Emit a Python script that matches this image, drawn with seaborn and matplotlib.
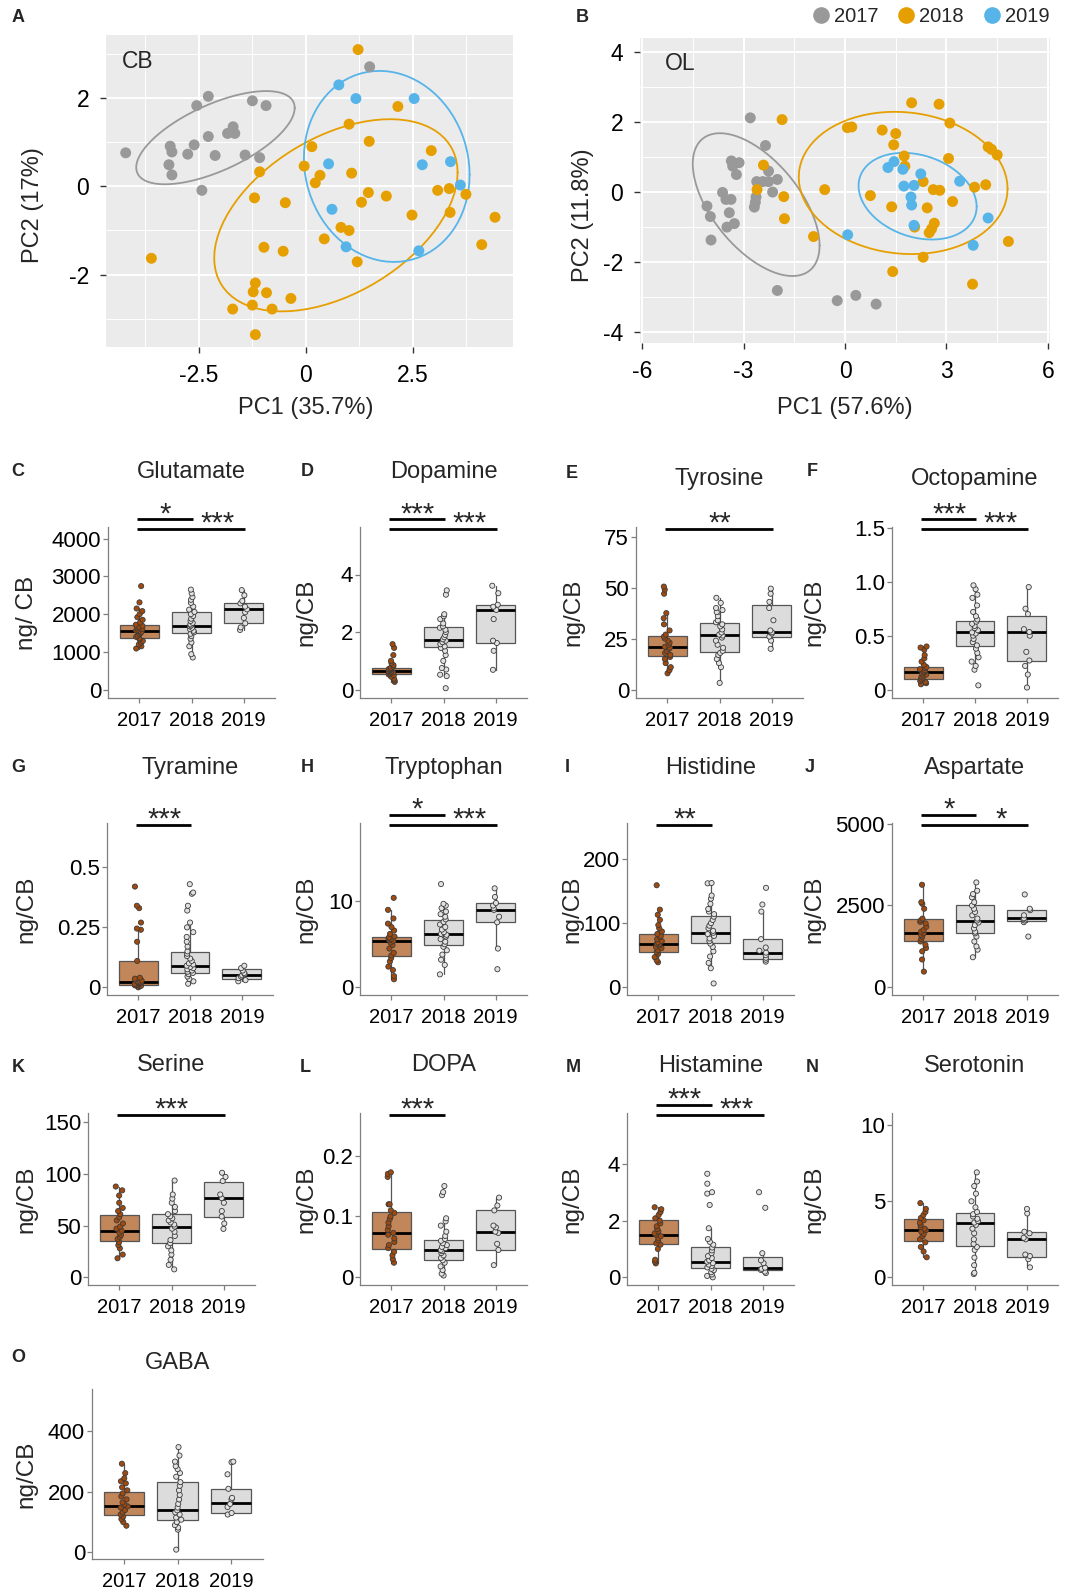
import numpy as np
import pandas as pd
import matplotlib
matplotlib.use("Agg")
import matplotlib.pyplot as plt
import matplotlib.transforms as mtrans
from matplotlib.lines import Line2D
from matplotlib.ticker import FixedLocator
import seaborn as sns

sns.set_theme(style="white")
plt.rcParams["font.family"] = ["Liberation Sans", "DejaVu Sans"]
plt.rcParams["axes.unicode_minus"] = False
np.random.seed(7)

# ---------------- DATA ----------------
YEARS = ["2017", "2018", "2019"]
PCA_COLORS = {"2017": "#999999", "2018": "#E69F00", "2019": "#56B4E9"}

# Panel A (CB) PCA scores [PC1, PC2]
cb_2017 = [[-4.21, 0.76], [-2.55, 1.83], [-2.28, 2.04], [-1.25, 1.94], [-0.93, 1.83],
           [-3.17, 0.91], [-3.13, 0.78], [-2.61, 0.94], [-2.76, 0.73], [-2.28, 1.13],
           [-2.12, 0.70], [-3.20, 0.49], [-3.13, 0.26], [-1.83, 1.20], [-1.70, 1.35],
           [-1.66, 1.20], [-1.42, 0.71], [-1.08, 0.65], [-2.43, -0.09], [1.49, 2.71]]
cb_2018 = [[1.22, 3.10], [2.15, 1.81], [1.01, 1.41], [1.48, 1.02], [0.14, 0.90],
           [-0.04, 0.46], [-1.08, 0.33], [0.33, 0.25], [0.22, 0.08], [1.07, 0.30],
           [2.93, 0.81], [1.46, -0.14], [1.88, -0.22], [1.30, -0.36], [3.08, -0.09],
           [3.35, -0.05], [3.74, -0.18], [3.37, -0.59], [2.48, -0.65], [4.42, -0.70],
           [4.11, -1.32], [-1.20, -0.26], [-0.48, -0.37], [0.82, -0.93], [1.01, -1.00],
           [0.43, -1.19], [-0.98, -1.38], [-0.53, -1.47], [1.20, -1.71], [-3.61, -1.63],
           [-1.18, -2.19], [-1.23, -2.39], [-0.92, -2.41], [-0.35, -2.54], [-1.25, -2.69],
           [-1.71, -2.78], [-0.79, -2.78], [-1.18, -3.36]]
cb_2019 = [[0.77, 2.30], [1.17, 1.99], [2.53, 1.99], [0.53, 0.51], [2.72, 0.49],
           [3.38, 0.56], [3.61, 0.03], [0.61, -0.52], [0.94, -1.37], [2.64, -1.46]]

# Panel B (OL) PCA scores [PC1, PC2]
ol_2017 = [[-2.80, 2.12], [-2.35, 1.33], [-3.36, 0.89], [-3.13, 0.84], [-3.32, 0.74],
           [-3.21, 0.50], [-2.26, 0.60], [-2.00, 0.36], [-2.61, 0.30], [-2.43, 0.30],
           [-2.26, 0.30], [-2.14, 0.00], [-3.62, -0.01], [-3.52, -0.21], [-3.37, -0.21],
           [-2.63, -0.14], [-2.65, -0.29], [-2.68, -0.43], [-4.08, -0.40], [-3.98, -0.70],
           [-3.42, -0.59], [-3.27, -0.90], [-3.49, -1.00], [-3.96, -1.37], [-2.00, -2.81],
           [-0.23, -3.10], [0.32, -2.95], [0.92, -3.20]]
ol_2018 = [[-1.86, 2.07], [-2.41, 0.77], [-2.60, 0.07], [-1.81, -0.13], [-1.79, -0.76],
           [-0.93, -1.27], [-0.60, 0.07], [0.07, 1.84], [0.20, 1.86], [1.10, 1.77],
           [1.50, 1.67], [1.44, 1.35], [1.97, 2.55], [2.78, 2.51], [3.10, 1.97],
           [3.06, 0.96], [1.75, 1.03], [1.77, 0.74], [4.23, 1.29], [4.33, 1.22],
           [4.50, 1.06], [2.31, 0.30], [2.61, 0.07], [2.80, 0.05], [3.83, 0.14],
           [4.16, 0.21], [0.75, -0.10], [1.38, -0.42], [2.43, -0.45], [3.18, -0.27],
           [2.06, -1.00], [2.64, -0.89], [2.56, -1.05], [2.49, -1.16], [2.31, -1.86],
           [1.41, -2.27], [3.77, -2.63], [4.83, -1.41]]
ol_2019 = [[1.27, 0.70], [1.45, 0.87], [1.71, 0.65], [2.24, 0.52], [3.39, 0.31],
           [1.74, 0.17], [2.04, 0.19], [1.95, -0.14], [1.97, -0.37], [2.04, -0.95],
           [0.08, -1.22], [4.23, -0.74], [3.79, -1.52]]

# Box statistics per year: [whisker low, Q1, median, Q3, whisker high]
glutamate_box = [[1090, 1363, 1565, 1700, 2150], [853, 1512, 1697, 2066, 2650], [1582, 1758, 2127, 2286, 2637]]
dopamine_box = [[0.27, 0.54, 0.66, 0.75, 1.05], [0.47, 1.48, 1.71, 2.17, 2.62], [0.69, 1.61, 2.77, 2.94, 3.61]]
tyrosine_box = [[8, 16.7, 20.9, 26.1, 37.5], [3.3, 18.5, 26.6, 32.8, 45], [20, 26.0, 28.1, 41.3, 49.5]]
octopamine_box = [[0.05, 0.10, 0.164, 0.21, 0.40], [0.185, 0.407, 0.531, 0.633, 0.966], [0.02, 0.269, 0.534, 0.685, 0.95]]
tyramine_box = [[0.0, 0.0097, 0.021, 0.11, 0.245], [0.015, 0.06, 0.09, 0.146, 0.27], [0.025, 0.035, 0.05, 0.075, 0.09]]
tryptophan_box = [[0.93, 3.66, 5.41, 5.9, 9.0], [1.5, 4.9, 6.15, 7.78, 9.7], [4.5, 7.55, 9.03, 9.77, 11.5]]
histidine_box = [[39, 55.7, 67.7, 82.8, 121], [29.7, 69.8, 83.9, 111.5, 162.5], [40, 43.8, 54, 75, 118]]
aspartate_box = [[480, 1429, 1673, 2082, 3133], [918, 1673, 2041, 2500, 3204], [1990, 2041, 2112, 2357, 2400]]
serine_box = [[18.4, 35.5, 45.2, 60.3, 87.7], [7.7, 32.9, 49, 61, 93.5], [46.8, 58.7, 76.5, 91.9, 101]]
dopa_box = [[0.024, 0.047, 0.073, 0.107, 0.1725], [0.003, 0.029, 0.045, 0.062, 0.097], [0.02, 0.045, 0.075, 0.11, 0.131]]
histamine_box = [[0.49, 1.19, 1.48, 2.01, 2.47], [0.0, 0.32, 0.55, 1.06, 1.73], [0.15, 0.26, 0.34, 0.71, 0.85]]
serotonin_box = [[1.32, 2.42, 3.12, 3.85, 4.88], [0.22, 2.09, 3.6, 4.26, 6.9], [0.66, 1.36, 2.53, 3.01, 4.5]]
gaba_box = [[88, 123, 152, 200.5, 293], [9, 108, 139, 231, 348], [125, 129, 163, 210, 301]]

# Individual measurements (ng/CB)
glutamate_2017 = [1090, 1150, 1200, 1250, 1290, 1330, 1360, 1400, 1430, 1470, 1500, 1530, 1550, 1570,
                  1590, 1610, 1640, 1660, 1690, 1720, 1780, 1850, 1920, 2000, 2080, 2150, 2312, 2743]
glutamate_2018 = [853, 940, 1150, 1250, 1350, 1420, 1480, 1520, 1560, 1600, 1640, 1680, 1700, 1730,
                  1770, 1820, 1880, 1950, 2000, 2060, 2120, 2200, 2300, 2380, 2450, 2550, 2650]
glutamate_2019 = [1582, 1650, 1758, 1900, 2050, 2127, 2200, 2286, 2350, 2500, 2637]

dopamine_2017 = [0.27, 0.32, 0.38, 0.45, 0.50, 0.53, 0.56, 0.58, 0.60, 0.62, 0.64, 0.66, 0.68, 0.70,
                 0.72, 0.74, 0.76, 0.80, 0.85, 0.92, 1.0, 1.2, 1.45, 1.58]
dopamine_2018 = [0.05, 0.47, 0.52, 0.70, 0.75, 1.0, 1.2, 1.35, 1.45, 1.5, 1.58, 1.65, 1.70, 1.75,
                 1.82, 1.9, 2.0, 2.08, 2.15, 2.2, 2.3, 2.45, 2.55, 2.62, 3.3, 3.45]
dopamine_2019 = [0.69, 1.35, 1.62, 1.7, 2.45, 2.77, 2.88, 2.95, 3.35, 3.61]

tyrosine_2017 = [8, 9.5, 11, 13, 15, 16, 17, 18, 19, 20, 20.5, 21, 22, 23, 24, 25, 26, 27, 29, 32,
                 35, 37.5, 47, 49, 50.5]
tyrosine_2018 = [3.3, 11, 13, 15, 17, 18, 19, 20.5, 22, 24, 25.5, 26.5, 27, 28, 29.5, 31, 32, 33,
                 34, 36, 38, 39, 40, 42.5, 45]
tyrosine_2019 = [20, 24, 26, 27.5, 28.1, 29, 34, 40, 43, 47, 49.5]

octopamine_2017 = [0.05, 0.06, 0.07, 0.08, 0.09, 0.10, 0.11, 0.12, 0.13, 0.14, 0.15, 0.16, 0.17,
                   0.18, 0.19, 0.2, 0.21, 0.23, 0.26, 0.29, 0.32, 0.37, 0.39, 0.40]
octopamine_2018 = [0.04, 0.185, 0.22, 0.26, 0.30, 0.34, 0.38, 0.41, 0.44, 0.47, 0.50, 0.52, 0.53,
                   0.55, 0.57, 0.59, 0.61, 0.63, 0.65, 0.68, 0.72, 0.78, 0.85, 0.88, 0.93, 0.966]
octopamine_2019 = [0.02, 0.14, 0.22, 0.27, 0.35, 0.50, 0.534, 0.56, 0.70, 0.75, 0.95]

tyramine_2017 = [0.0, 0.003, 0.006, 0.008, 0.010, 0.012, 0.014, 0.016, 0.018, 0.020, 0.022, 0.025,
                 0.028, 0.032, 0.036, 0.04, 0.11, 0.19, 0.24, 0.245, 0.27, 0.33, 0.34, 0.42]
tyramine_2018 = [0.015, 0.025, 0.035, 0.045, 0.055, 0.06, 0.065, 0.07, 0.075, 0.08, 0.085, 0.09,
                 0.095, 0.1, 0.11, 0.12, 0.13, 0.14, 0.15, 0.17, 0.19, 0.21, 0.23, 0.25, 0.27,
                 0.32, 0.34, 0.39, 0.395, 0.43]
tyramine_2019 = [0.025, 0.03, 0.038, 0.045, 0.05, 0.055, 0.06, 0.07, 0.08, 0.09]

tryptophan_2017 = [0.93, 1.3, 2.0, 2.4, 3.0, 3.4, 3.7, 4.0, 4.5, 4.9, 5.2, 5.4, 5.5, 5.6, 5.7, 5.8,
                   5.9, 6.2, 6.6, 7.0, 7.4, 8.0, 9.0, 10.4]
tryptophan_2018 = [1.5, 2.6, 3.2, 3.8, 4.3, 4.7, 5.0, 5.3, 5.6, 5.9, 6.1, 6.2, 6.4, 6.7, 7.0, 7.3,
                   7.6, 7.9, 8.2, 8.5, 8.8, 9.2, 9.5, 9.7, 12.0]
tryptophan_2019 = [2.1, 4.5, 7.55, 8.2, 9.0, 9.2, 9.5, 9.8, 10.5, 11.5]

histidine_2017 = [39, 42, 47, 52, 55, 58, 61, 63, 65, 67, 68, 70, 72, 75, 78, 80, 83, 87, 92, 97,
                  105, 113, 121, 159]
histidine_2018 = [6, 29.7, 38, 48, 56, 63, 68, 72, 76, 80, 83, 85, 88, 92, 96, 100, 105, 110, 114,
                  118, 122, 130, 138, 143, 162, 162.5]
histidine_2019 = [40, 43, 46, 50, 54, 57, 62, 75, 118, 129, 155]

aspartate_2017 = [480, 850, 1100, 1200, 1300, 1400, 1480, 1550, 1600, 1650, 1700, 1750, 1850, 1950,
                  2000, 2050, 2100, 2400, 2550, 2600, 3133]
aspartate_2018 = [918, 1150, 1250, 1400, 1550, 1650, 1700, 1800, 1900, 1980, 2040, 2100, 2200, 2300,
                  2400, 2500, 2600, 2750, 2850, 2950, 3204]
aspartate_2019 = [1550, 1990, 2041, 2080, 2112, 2200, 2357, 2400, 2837]

serine_2017 = [18.4, 22, 28, 31, 34, 37, 39, 41, 43, 45, 47, 49, 52, 55, 58, 61, 64, 67, 72, 79, 84, 87.7]
serine_2018 = [7.7, 12, 17, 22, 26, 30, 33, 36, 40, 44, 47, 49, 51, 53, 55, 57, 59, 61, 64, 68, 72,
               76, 80, 93.5]
serine_2019 = [46.8, 52, 58.7, 64, 72, 76.5, 80, 93, 97, 101]

dopa_2017 = [0.024, 0.03, 0.036, 0.042, 0.048, 0.053, 0.058, 0.064, 0.07, 0.073, 0.078, 0.084, 0.09,
             0.096, 0.1, 0.106, 0.11, 0.12, 0.12, 0.165, 0.17, 0.1725]
dopa_2018 = [0.003, 0.006, 0.012, 0.018, 0.024, 0.028, 0.032, 0.036, 0.04, 0.043, 0.045, 0.048, 0.05,
             0.053, 0.056, 0.06, 0.063, 0.068, 0.075, 0.085, 0.092, 0.097, 0.135, 0.14, 0.15]
dopa_2019 = [0.02, 0.045, 0.055, 0.073, 0.075, 0.082, 0.085, 0.11, 0.118, 0.131]

histamine_2017 = [0.49, 0.55, 0.62, 1.0, 1.15, 1.2, 1.3, 1.38, 1.45, 1.5, 1.55, 1.62, 1.7, 1.8, 1.9,
                  2.0, 2.08, 2.2, 2.3, 2.4, 2.47]
histamine_2018 = [0.0, 0.05, 0.1, 0.18, 0.25, 0.3, 0.35, 0.4, 0.45, 0.5, 0.55, 0.6, 0.68, 0.75, 0.85,
                  0.95, 1.05, 1.15, 1.25, 1.35, 1.73, 2.55, 2.95, 3.0, 3.3, 3.65]
histamine_2019 = [0.15, 0.2, 0.26, 0.3, 0.34, 0.5, 0.6, 0.85, 2.45, 3.0]

serotonin_2017 = [1.32, 1.7, 2.0, 2.3, 2.5, 2.7, 2.85, 3.0, 3.1, 3.2, 3.3, 3.45, 3.6, 3.75, 3.9, 4.1,
                  4.3, 4.5, 4.88]
serotonin_2018 = [0.22, 0.3, 0.8, 1.3, 1.8, 2.0, 2.2, 2.5, 2.9, 3.2, 3.45, 3.6, 3.7, 3.85, 4.0, 4.15,
                  4.3, 4.6, 5.0, 5.5, 6.0, 6.3, 6.9]
serotonin_2019 = [0.66, 1.2, 1.4, 1.5, 2.5, 2.6, 2.9, 3.0, 4.2, 4.5]

gaba_2017 = [88, 100, 110, 118, 125, 132, 140, 148, 152, 158, 165, 175, 185, 195, 205, 215, 228, 235,
             245, 262, 293]
gaba_2018 = [9, 75, 82, 90, 100, 108, 115, 125, 132, 139, 148, 160, 175, 190, 205, 220, 232, 250, 262,
             275, 285, 300, 320, 348]
gaba_2019 = [125, 130, 150, 160, 175, 180, 210, 258, 298, 300]

# Significance annotations: (group a, group b, label)
sig_glutamate = [(0, 1, "*"), (0, 2, "***")]
sig_dopamine = [(0, 1, "***"), (0, 2, "***")]
sig_tyrosine = [(0, 2, "**")]
sig_octopamine = [(0, 1, "***"), (0, 2, "***")]
sig_tyramine = [(0, 1, "***")]
sig_tryptophan = [(0, 1, "*"), (0, 2, "***")]
sig_histidine = [(0, 1, "**")]
sig_aspartate = [(0, 1, "*"), (0, 2, "*")]
sig_serine = [(0, 2, "***")]
sig_dopa = [(0, 1, "***")]
sig_histamine = [(0, 1, "***"), (0, 2, "***")]

# y ticks per panel (values and labels)
ticks_glutamate = [0, 1000, 2000, 3000, 4000]
ticks_dopamine = [0, 2, 4]
ticks_tyrosine = [0, 25, 50, 75]
ticks_octopamine = [0, 0.5, 1.0, 1.5]
labels_octopamine = ["0", "0.5", "1.0", "1.5"]
ticks_tyramine = [0, 0.25, 0.5]
labels_tyramine = ["0", "0.25", "0.5"]
ticks_tryptophan = [0, 10]
ticks_histidine = [0, 100, 200]
ticks_aspartate = [0, 2500, 5000]
ticks_serine = [0, 50, 100, 150]
ticks_dopa = [0, 0.1, 0.2]
labels_dopa = ["0", "0.1", "0.2"]
ticks_histamine = [0, 2, 4]
ticks_serotonin = [0, 5, 10]
ticks_gaba = [0, 200, 400]

# ---------------- FIGURE ----------------
W, H = 1078, 1593
fig = plt.figure(figsize=(W / 100, H / 100), dpi=100)
fig.patch.set_facecolor("white")


def px_axes(l, t, r, b):
    return fig.add_axes([l / W, 1 - b / H, (r - l) / W, (b - t) / H])


def norm_ellipse(pts, level=0.68, segments=80):
    # ggplot2 stat_ellipse(type = "norm") equivalent
    X = np.asarray(pts, float)
    n = len(X)
    loc = X.mean(axis=0)
    cov = np.cov(X.T, ddof=1)
    dfd = n - 1
    fq = (dfd / 2) * ((1 - level) ** (-2 / dfd) - 1)   # qf(level, 2, dfd)
    radius = np.sqrt(2 * fq)
    ang = np.linspace(0, 2 * np.pi, segments + 1)
    circ = np.column_stack([np.cos(ang), np.sin(ang)])
    R = np.linalg.cholesky(cov).T
    return loc + radius * circ @ R


def pca_panel(ax, groups, xlim, ylim, xt, xtl, yt, minor_x, minor_y, tag, tag_x):
    rows = []
    for yr, pts in zip(YEARS, groups):
        for p in pts:
            rows.append({"PC1": p[0], "PC2": p[1], "year": yr})
    df = pd.DataFrame(rows)
    ax.set_facecolor("#EBEBEB")
    sns.scatterplot(data=df, x="PC1", y="PC2", hue="year", hue_order=YEARS,
                    palette=PCA_COLORS, s=62, edgecolor="none", legend=False,
                    ax=ax, zorder=3)
    for yr, pts in zip(YEARS, groups):
        e = norm_ellipse(pts)
        ax.plot(e[:, 0], e[:, 1], color=PCA_COLORS[yr], lw=1.3, zorder=2)
    ax.set_xlim(*xlim)
    ax.set_ylim(*ylim)
    ax.set_xticks(xt)
    ax.set_xticklabels(xtl)
    ax.set_yticks(yt)
    ax.set_yticklabels([str(v) for v in yt])
    ax.xaxis.set_minor_locator(FixedLocator(minor_x))
    ax.yaxis.set_minor_locator(FixedLocator(minor_y))
    ax.grid(which="major", color="white", lw=1.4, zorder=0)
    ax.grid(which="minor", color="white", lw=0.7, zorder=0)
    ax.set_axisbelow(True)
    for s in ax.spines.values():
        s.set_visible(False)
    ax.tick_params(which="major", length=4, width=1.0, color="#333333",
                   labelsize=16.5, labelcolor="black", pad=8, bottom=True, left=True)
    ax.tick_params(which="minor", length=0)
    ax.set_xlabel("")
    ax.set_ylabel("")
    ax.text(tag_x, 0.915, tag, transform=ax.transAxes, fontsize=16.5, ha="left", va="center")


axA = px_axes(106, 35, 513, 347)
pca_panel(axA, [cb_2017, cb_2018, cb_2019], (-4.67, 4.84), (-3.64, 3.43),
          [-2.5, 0, 2.5], ["-2.5", "0", "2.5"], [-2, 0, 2],
          [-3.75, -1.25, 1.25, 3.75], [-3, -1, 1, 3], "CB", 0.04)
axB = px_axes(640, 38, 1050, 343)
pca_panel(axB, [ol_2017, ol_2018, ol_2019], (-6.06, 6.06), (-4.31, 4.4),
          [-6, -3, 0, 3, 6], ["-6", "-3", "0", "3", "6"], [-4, -2, 0, 2, 4],
          [-4.5, -1.5, 1.5, 4.5], [-3, -1, 1, 3], "OL", 0.06)

fig.text(306 / W, 1 - 408 / H, "PC1 (35.7%)", fontsize=17, ha="center", va="center")
fig.text(845 / W, 1 - 408 / H, "PC1 (57.6%)", fontsize=17, ha="center", va="center")
fig.text(33 / W, 1 - 205 / H, "PC2 (17%)", fontsize=17, ha="center", va="center", rotation=90)
fig.text(583 / W, 1 - 215 / H, "PC2 (11.8%)", fontsize=17, ha="center", va="center", rotation=90)

handles = [Line2D([0], [0], marker="o", ls="", markersize=12, markerfacecolor=PCA_COLORS[y],
                  markeredgecolor="none") for y in YEARS]
fig.legend(handles, YEARS, loc="center right", bbox_to_anchor=(1050 / W, 1 - 17 / H),
           ncol=3, frameon=False, fontsize=14.5, handletextpad=0.15, columnspacing=0.9,
           handlelength=1.0, borderaxespad=0, borderpad=0)

fig.text(18 / W, 1 - 18 / H, "A", fontsize=13, fontweight="bold", ha="center", va="center")
fig.text(582 / W, 1 - 18 / H, "B", fontsize=13, fontweight="bold", ha="center", va="center")

# ---------------- BOX PANELS ----------------
BOX_FILL = {"2017": "#C18659", "2018": "#DCDCDC", "2019": "#DCDCDC"}
PT_FILL = {"2017": "#A24A0E", "2018": "#E2E2E2", "2019": "#E2E2E2"}

panels = [
    # letter, title, points, box, ylim, ticks, ticklabels, ylabel, sig, axes px, title_y, letter_xy, ylab_x
    ("C", "Glutamate", [glutamate_2017, glutamate_2018, glutamate_2019], glutamate_box, (-220, 4308),
     ticks_glutamate, None, "ng/ CB", sig_glutamate, (108, 527, 275, 698), 472, (18, 472), 27),
    ("D", "Dopamine", [dopamine_2017, dopamine_2018, dopamine_2019], dopamine_box, (-0.29, 5.65),
     ticks_dopamine, None, "ng/CB", sig_dopamine, (360, 527, 527, 698), 472, (307, 472), 306),
    ("E", "Tyrosine", [tyrosine_2017, tyrosine_2018, tyrosine_2019], tyrosine_box, (-4.1, 79.7),
     ticks_tyrosine, None, "ng/CB", sig_tyrosine, (636, 527, 803, 698), 479, (572, 473), 573),
    ("F", "Octopamine", [octopamine_2017, octopamine_2018, octopamine_2019], octopamine_box,
     (-0.077, 1.506), ticks_octopamine, labels_octopamine, "ng/CB", sig_octopamine,
     (892, 527, 1058, 698), 479, (812, 472), 814),
    ("G", "Tyramine", [tyramine_2017, tyramine_2018, tyramine_2019], tyramine_box, (-0.032, 0.685),
     ticks_tyramine, labels_tyramine, "ng/CB", sig_tyramine, (107, 823, 273, 995), 768, (18, 768), 26),
    ("H", "Tryptophan", [tryptophan_2017, tryptophan_2018, tryptophan_2019], tryptophan_box,
     (-0.9, 19.1), ticks_tryptophan, None, "ng/CB", sig_tryptophan, (360, 823, 527, 995), 768,
     (307, 768), 306),
    ("I", "Histidine", [histidine_2017, histidine_2018, histidine_2019], histidine_box, (-12, 256),
     ticks_histidine, None, "ng/CB", sig_histidine, (627, 823, 794, 995), 768, (567, 768), 572),
    ("J", "Aspartate", [aspartate_2017, aspartate_2018, aspartate_2019], aspartate_box, (-235, 5020),
     ticks_aspartate, None, "ng/CB", sig_aspartate, (892, 823, 1058, 995), 768, (810, 768), 814),
    ("K", "Serine", [serine_2017, serine_2018, serine_2019], serine_box, (-7.4, 158.7),
     ticks_serine, None, "ng/CB", sig_serine, (88, 1113, 255, 1285), 1065, (18, 1068), 26),
    ("L", "DOPA", [dopa_2017, dopa_2018, dopa_2019], dopa_box, (-0.0126, 0.27),
     ticks_dopa, labels_dopa, "ng/CB", sig_dopa, (360, 1113, 527, 1285), 1065, (305, 1068), 306),
    ("M", "Histamine", [histamine_2017, histamine_2018, histamine_2019], histamine_box, (-0.27, 5.79),
     ticks_histamine, None, "ng/CB", sig_histamine, (627, 1113, 794, 1285), 1066, (573, 1068), 572),
    ("N", "Serotonin", [serotonin_2017, serotonin_2018, serotonin_2019], serotonin_box, (-0.5, 10.8),
     ticks_serotonin, None, "ng/CB", [], (892, 1113, 1058, 1285), 1066, (812, 1068), 814),
    ("O", "GABA", [gaba_2017, gaba_2018, gaba_2019], gaba_box, (-22, 540),
     ticks_gaba, None, "ng/CB", [], (92, 1389, 263, 1559), 1363, (18, 1358), 26),
]

AX_GRAY = "#7F7F7F"
for (letter, title, pts, box, ylim, ticks, tlabels, ylab, sig, (l, t, r, b), ty, (lx, ly), ylx) in panels:
    ax = px_axes(l, t, r, b)
    stats = []
    for row in box:
        stats.append(dict(whislo=row[0], q1=row[1], med=row[2], q3=row[3], whishi=row[4], fliers=[]))
    bp = ax.bxp(stats, positions=[0, 1, 2], widths=0.75, patch_artist=True, showfliers=False,
                showcaps=False, manage_ticks=False,
                boxprops=dict(edgecolor="#555555", linewidth=0.9),
                medianprops=dict(color="black", linewidth=2.0, solid_capstyle="butt"),
                whiskerprops=dict(color="#555555", linewidth=0.9))
    for patch, yr in zip(bp["boxes"], YEARS):
        patch.set_facecolor(BOX_FILL[yr])
        patch.set_zorder(1)
    for m in bp["medians"]:
        m.set_zorder(2)

    rows = []
    for yr, vals in zip(YEARS, pts):
        for v in vals:
            rows.append({"year": yr, "val": v})
    df = pd.DataFrame(rows)
    sns.stripplot(data=df, x="year", y="val", hue="year", order=YEARS, hue_order=YEARS,
                  palette=PT_FILL, jitter=0.07, size=3.7, linewidth=0.6, edgecolor="#3A3A3A",
                  legend=False, ax=ax, zorder=3)

    ax.set_xlim(-0.6, 2.6)
    ax.set_ylim(*ylim)
    ax.set_xticks([0, 1, 2])
    ax.set_xticklabels(YEARS)
    ax.set_yticks(ticks)
    ax.set_yticklabels(tlabels if tlabels else [str(v) for v in ticks])
    ax.set_xlabel("")
    ax.set_ylabel("")
    ax.set_facecolor("white")
    ax.grid(False)
    for s in ["top", "right"]:
        ax.spines[s].set_visible(False)
    for s in ["left", "bottom"]:
        ax.spines[s].set_color(AX_GRAY)
        ax.spines[s].set_linewidth(0.9)
    ax.tick_params(axis="both", length=3.5, width=0.9, color=AX_GRAY, labelcolor="black",
                   bottom=True, left=True)
    ax.tick_params(axis="y", labelsize=16, pad=1.5)
    ax.tick_params(axis="x", labelsize=14.5, pad=6)

    # significance bars
    trans = mtrans.blended_transform_factory(ax.transData, ax.transAxes)
    txt_trans = mtrans.offset_copy(trans, fig=fig, y=-2.0, units="points")
    if len(sig) == 2:
        levels = [1.045, 0.99]
        label_x = [0.5, 1.5]
    else:
        levels = [0.99]
        label_x = [(sig[0][0] + sig[0][1]) / 2] if sig else []
    for (a, c, lab), yl, lxp in zip(sig, levels, label_x):
        ax.plot([a - 0.05, c + 0.02], [yl, yl], color="black", lw=2.0, transform=trans,
                clip_on=False, solid_capstyle="butt")
        ax.text(lxp, yl, lab, transform=txt_trans, ha="center", va="baseline", fontsize=21)

    cx = (l + r) / 2
    fig.text(cx / W, 1 - ty / H, title, fontsize=17, ha="center", va="center")
    fig.text(lx / W, 1 - ly / H, letter, fontsize=13, fontweight="bold", ha="center", va="center")
    fig.text(ylx / W, 1 - ((t + b) / 2) / H, ylab, fontsize=17.5, ha="center", va="center",
             rotation=90)

fig.savefig("out.png", dpi=100)
